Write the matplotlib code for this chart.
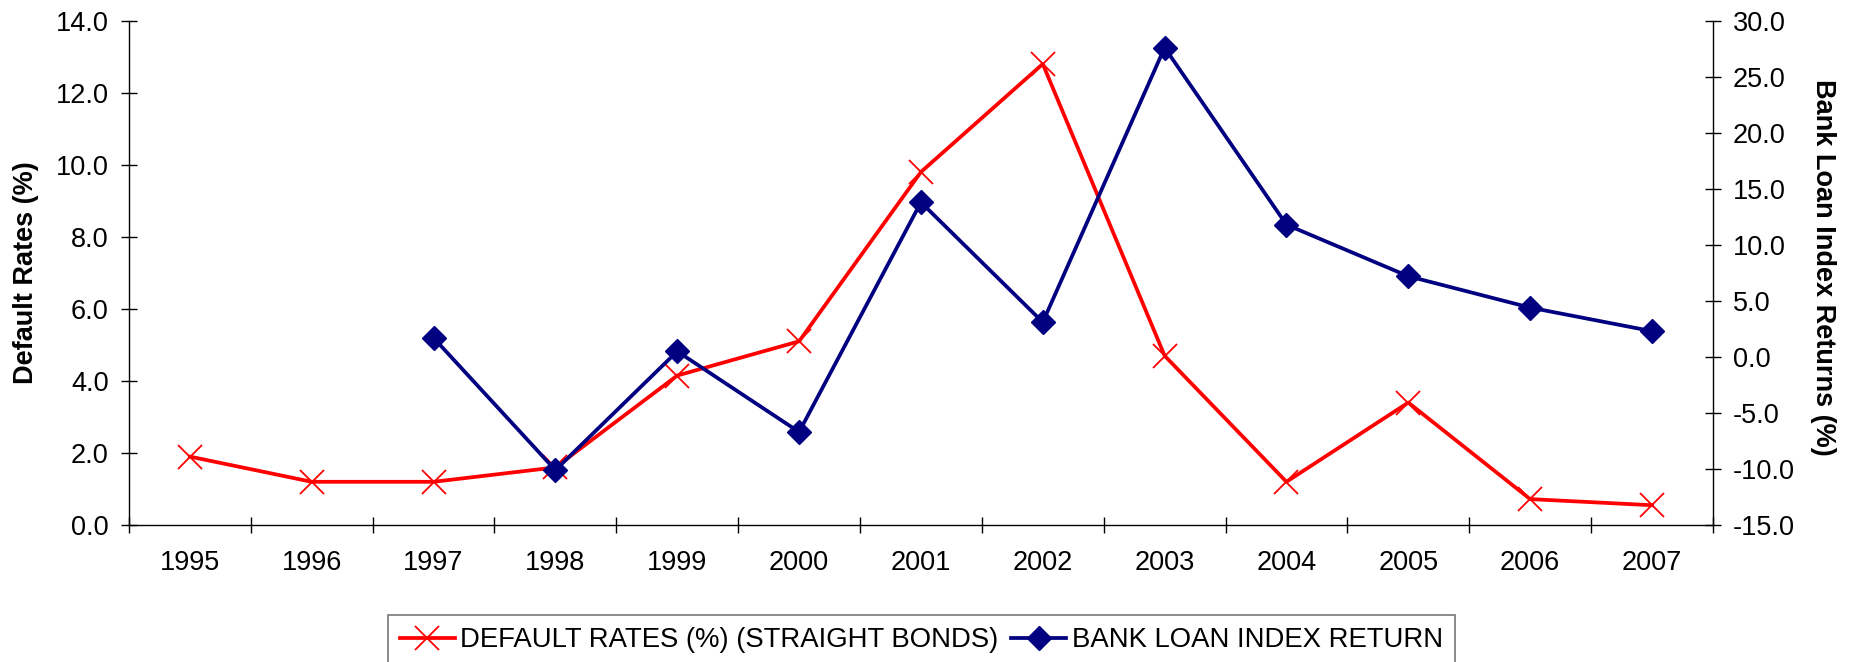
import matplotlib
matplotlib.use("Agg")
import matplotlib.pyplot as plt
from matplotlib import font_manager as fm
import numpy as np
from matplotlib.ticker import FixedLocator, FormatStrFormatter

years = ["1995", "1996", "1997", "1998", "1999", "2000", "2001",
         "2002", "2003", "2004", "2005", "2006", "2007"]
default_rates = [1.9, 1.2, 1.2, 1.6, 4.15, 5.1, 9.8, 12.8, 4.7, 1.2, 3.4, 0.72, 0.55]
bank_loan_returns = [np.nan, np.nan, 1.7, -10.1, 0.5, -6.7, 13.8, 3.1, 27.6, 11.8, 7.2, 4.4, 2.3]

plt.rcParams['font.family'] = ['Liberation Sans', 'DejaVu Sans']
installed = {f.name for f in fm.fontManager.ttflist}
narrow = 'Liberation Sans Narrow' in installed

fig = plt.figure(figsize=(18.5, 6.62), dpi=100)
ax = fig.add_axes([0.0697, 0.2069, 0.8562, 0.7618])
ax2 = ax.twinx()

x = np.arange(len(years))
l1, = ax.plot(x, default_rates, color='#FF0000', lw=2.7, marker='x',
              markersize=17, markeredgewidth=1.3, label='DEFAULT RATES (%) (STRAIGHT BONDS)')
l2, = ax2.plot(x, bank_loan_returns, color='#000080', lw=2.7, marker='D',
               markersize=12, label='BANK LOAN INDEX RETURN')

ax.set_xlim(-0.5, len(years) - 0.5)
ax.set_ylim(0, 14)
ax2.set_ylim(-15, 30)
ax.set_yticks(np.arange(0, 14.01, 2))
ax2.set_yticks(np.arange(-15, 30.01, 5))
ax.yaxis.set_major_formatter(FormatStrFormatter('%.1f'))
ax2.yaxis.set_major_formatter(FormatStrFormatter('%.1f'))

ax.set_xticks(x)
ax.set_xticklabels(years)
ax.xaxis.set_minor_locator(FixedLocator(np.arange(-0.5, len(years), 1)))
ax.tick_params(axis='x', which='major', length=0, labelsize=19.5, pad=18)
ax.tick_params(axis='x', which='minor', direction='inout', length=12, width=1)
ax.tick_params(axis='y', direction='inout', length=12, width=1, labelsize=19.5, pad=8.5)
ax2.tick_params(axis='y', direction='inout', length=12, width=1, labelsize=19.5, pad=8.5)

for a in (ax, ax2):
    a.spines['top'].set_visible(False)
    for s in ('left', 'right', 'bottom'):
        a.spines[s].set_linewidth(1.0)
ax2.spines['left'].set_visible(False)
ax2.spines['bottom'].set_visible(False)
ax.spines['right'].set_visible(False)

ax.set_ylabel('Default Rates (%)', fontsize=19.5, fontweight='bold')
ax.yaxis.set_label_coords(-0.065, 0.5)
ax.yaxis.label.set_va('center')
ax.yaxis.label.set_ha('center')
ax2.set_ylabel('Bank Loan Index Returns (%)', fontsize=19.5, fontweight='bold', rotation=270)
ax2.yaxis.set_label_coords(1.0695, 0.51)
ax2.yaxis.label.set_va('center')
ax2.yaxis.label.set_ha('center')

if narrow:
    lprop = {'family': ['Liberation Sans Narrow', 'Liberation Sans'], 'size': 22}
else:
    lprop = {'family': ['Liberation Sans'], 'size': 19.8}
leg = fig.legend(handles=[l1, l2], loc='upper center', bbox_to_anchor=(0.498, 1 - 615 / 662),
                 ncol=2, frameon=True, fancybox=False, handlelength=2.0,
                 columnspacing=0.45, handletextpad=0.2, borderpad=0.45, borderaxespad=0,
                 prop=lprop)
leg.get_frame().set_edgecolor('#555555')
leg.get_frame().set_linewidth(1.2)

fig.savefig('out.png', dpi=100)
